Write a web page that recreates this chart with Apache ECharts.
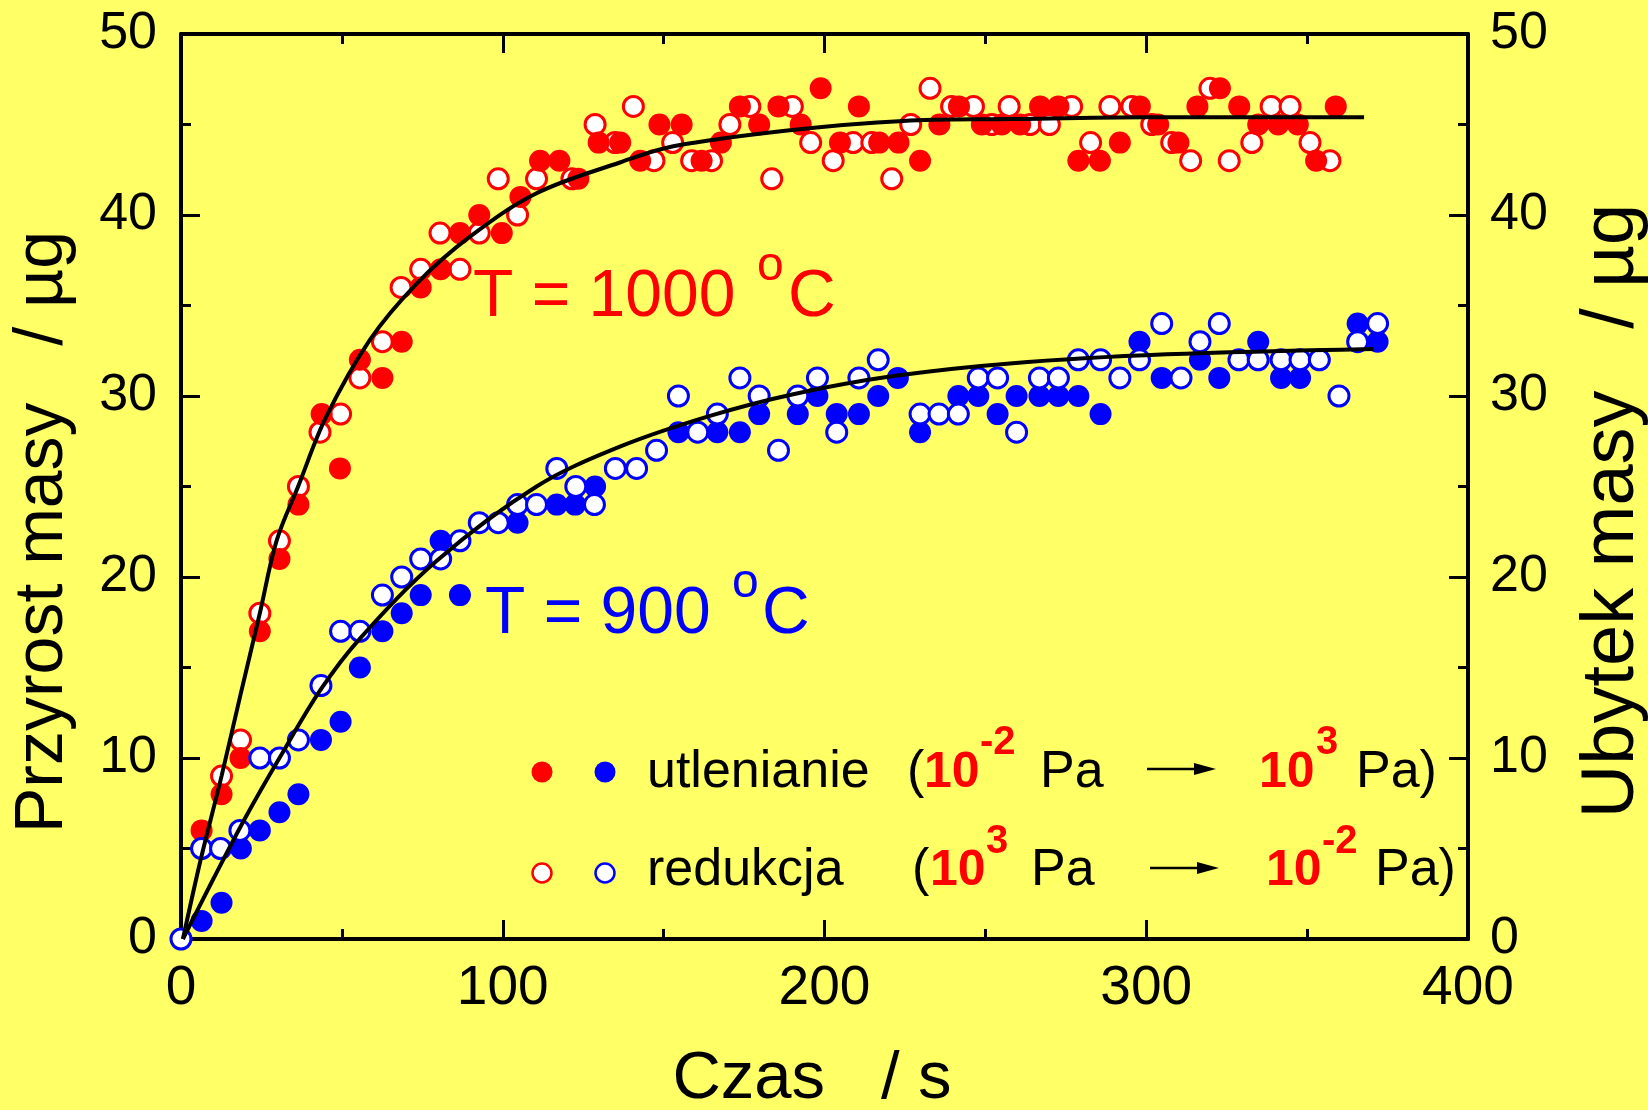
<!DOCTYPE html>
<html>
<head>
<meta charset="utf-8">
<script src="https://cdn.jsdelivr.net/npm/echarts@6/dist/echarts.min.js"></script>
<style>
  html, body { margin: 0; padding: 0; background: #FFFF66; }
  #chart { width: 1648px; height: 1110px; }
</style>
</head>
<body>
<div id="chart"></div>
<script>
// Mass change vs. time at two temperatures (oxidation = filled, reduction = open)

// T = 1000 °C, oxidation (filled red)
const red1000OxT = [6.4,12.6,18.5,24.5,30.6,36.5,43.7,49.4,55.6,62.6,68.6,74.5,80.7,86.7,92.7,99.7,105.5,111.6,117.6,123.5,129.8,136.5,142.7,148.7,155.6,161.8,167.8,173.7,179.7,185.7,192.6,198.8,204.8,210.7,217,223,229.7,235.7,241.8,248.9,255.1,260.8,267,272.7,278.9,285.6,291.8,298,303.7,310,315.9,322.9,328.9,334.8,341,347.1,352.8,358.9];
const red1000OxY = [6,8,10,17,21,24,29,26,32,31,33,36,37,39,40,39,41,43,43,42,44,44,43,45,45,43,44,46,45,46,45,47,44,46,44,44,43,45,46,45,45,45,46,46,43,43,44,46,45,44,46,47,46,45,45,45,43,46];

// T = 1000 °C, reduction (open red)
const red1000RedT = [12.6,18.5,24.5,30.6,36.5,43.2,49.6,55.6,62.6,68.4,74.5,80.5,86.7,92.7,98.6,104.6,110.5,121.5,128.7,134.9,140.6,147,152.8,158.7,164.9,170.6,176.8,183.6,190,195.7,202.7,208.9,214.7,220.9,226.8,232.8,239.5,246.3,252,257.4,263.9,269.9,276.8,282.7,288.7,295.5,301.7,307.9,313.8,319.8,325.8,332.8,338.8,344.7,350.9,357.1];
const red1000RedY = [9,11,18,22,25,28,29,31,33,36,37,39,37,39,42,40,42,42,45,44,46,43,44,43,43,45,46,42,46,44,43,44,44,42,45,47,46,46,45,46,45,45,46,44,46,46,45,44,43,47,43,44,46,46,44,43];

// T = 900 °C, oxidation (filled blue)
const blue900OxT = [6.4,12.6,18.6,24.5,30.6,36.5,43.5,49.6,55.6,62.6,68.6,74.5,80.7,86.7,104.6,116.8,122.5,128.7,154.6,166.7,173.7,179.7,191.7,197.8,203.8,210.7,216.7,222.8,229.7,241.6,247.8,253.8,259.7,266.8,272.7,278.9,285.8,297.9,304.8,316.7,322.7,334.8,341.9,347.8,365.7,371.9];
const blue900OxY = [1,2,5,6,7,8,11,12,15,17,18,19,22,19,23,24,24,25,28,28,28,29,29,30,29,29,30,31,28,30,30,29,30,30,30,30,29,33,31,32,31,33,31,31,34,33];

// T = 900 °C, reduction (open blue)
const blue900RedT = [0,6.4,12.3,18.3,24.5,30.6,36.5,43.5,49.6,55.6,62.6,68.6,74.5,80.7,86.7,92.7,98.6,104.6,110.5,116.8,122.7,128.5,135,141.6,147.8,154.6,160.6,166.7,173.7,179.7,185.7,191.7,197.8,203.8,210.7,216.7,229.7,235.6,241.6,247.8,253.8,259.7,266.8,272.7,278.9,285.8,291.8,297.9,304.8,310.8,316.7,322.7,328.8,334.8,341.9,347.8,353.8,359.9,365.7,371.9];
const blue900RedY = [0,5,5,6,10,10,11,14,17,17,19,20,21,21,22,23,23,24,24,26,25,24,26,26,27,30,28,29,31,30,27,30,31,28,31,32,29,29,29,31,31,28,31,31,32,32,31,32,34,31,33,34,32,32,32,32,32,30,33,34];

// Fitted curves
const fit1000T = [0.6,6,12.6,18.5,24.5,29.7,36.4,45,58.7,73.2,89.8,110.5,136.4,153,190,224.5,257.6,300,367.7];
const fit1000Y = [0,4.3,9,13.5,18,22,25,28.8,33.1,36.2,38.8,41.2,42.9,43.8,44.7,45.2,45.3,45.4,45.4];
const fit900T = [0.6,10,20,30.6,43.5,55.6,79.5,110.5,136.4,164.4,190.3,221.4,257.6,306.3,370.6];
const fit900Y = [0,3.3,6.7,10,13.8,16.6,20.9,25.0,27.2,28.9,30.1,31.1,31.8,32.3,32.6];

// Axis ticks
const xTicks = { min: 0, max: 400, step: 100 };
const yTicks = { min: 0, max: 50, step: 10 };

const pairs = (xs, ys) => xs.map((x, i) => [x, ys[i]]);

const FONT = '"Liberation Sans", Arial, Helvetica, sans-serif';
const RED = '#FF0000', BLUE = '#0000FF', BG = '#FFFF66';

function axisCommon(showLabel, fontSize, margin) {
  return {
    type: 'value',
    axisLine: { show: true, onZero: false, lineStyle: { color: '#000', width: 4 } },
    axisTick: { show: true, inside: true, length: 19, lineStyle: { color: '#000', width: 3 } },
    minorTick: { show: true, splitNumber: 2, length: 10, lineStyle: { color: '#000', width: 3 } },
    splitLine: { show: false },
    axisLabel: { show: showLabel, color: '#000', fontSize: fontSize, fontFamily: FONT, margin: margin }
  };
}

const xBottom = Object.assign(axisCommon(true, 55, 22), { position: 'bottom', min: xTicks.min, max: xTicks.max, interval: xTicks.step });
const xTop = Object.assign(axisCommon(false, 55, 22), { position: 'top', min: xTicks.min, max: xTicks.max, interval: xTicks.step });
const yLeft = Object.assign(axisCommon(true, 52, 24), { position: 'left', min: yTicks.min, max: yTicks.max, interval: yTicks.step });
const yRight = Object.assign(axisCommon(true, 52, 22), { position: 'right', min: yTicks.min, max: yTicks.max, interval: yTicks.step });

function filled(name, data, color) {
  return { name, type: 'scatter', data, symbol: 'circle', symbolSize: 22, clip: false,
    itemStyle: { color: color, opacity: 1 }, emphasis: { disabled: true } };
}
function hollow(name, data, color) {
  return { name, type: 'scatter', data, symbol: 'circle', symbolSize: 20, clip: false,
    itemStyle: { color: '#FFFFFF', borderColor: color, borderWidth: 3, opacity: 1 }, emphasis: { disabled: true } };
}
function fitLine(name, data) {
  return { name, type: 'line', data, smooth: 0.35, showSymbol: false, symbol: 'none', z: 5,
    lineStyle: { color: '#000', width: 4 }, emphasis: { disabled: true } };
}

// Text helpers for annotations and the custom key
function txt(x, y, text, font, fill, extra) {
  return Object.assign({ type: 'text', x: x, y: y, silent: true, z: 100,
    style: { text: text, font: font, fill: fill, textAlign: 'left', textVerticalAlign: 'middle' } }, extra || {});
}
function arrow(x1, x2, y) {
  return [
    { type: 'line', silent: true, z: 100, shape: { x1: x1, y1: y, x2: x2 - 18, y2: y }, style: { stroke: '#000', lineWidth: 2.5 } },
    { type: 'polygon', silent: true, z: 100, shape: { points: [[x2 - 22, y - 6], [x2, y], [x2 - 22, y + 6]] }, style: { fill: '#000' } }
  ];
}
const fN = '52px ' + FONT, fB = 'bold 50px ' + FONT, fS = 'bold 40px ' + FONT;
const fBig = '66px ' + FONT, fDeg = '48px ' + FONT;

const row1 = 773, row2 = 871, sup1 = 743, sup2 = 842;

const graphics = [
  // axis titles
  txt(43, 532, '', '', '#000', { rotation: Math.PI / 2, style: { text: 'Przyrost masy   / µg', font: '68px ' + FONT, fill: '#000', textAlign: 'center', textVerticalAlign: 'middle' } }),
  txt(1613, 511, '', '', '#000', { rotation: Math.PI / 2, style: { text: 'Ubytek masy   / µg', font: '74px ' + FONT, fill: '#000', textAlign: 'center', textVerticalAlign: 'middle' } }),
  txt(812, 1080, '', '', '#000', { style: { text: 'Czas   / s', font: '67px ' + FONT, fill: '#000', textAlign: 'center', textVerticalAlign: 'middle' } }),
  // temperature labels
  txt(473, 298, 'T = 1000', fBig, RED),
  txt(757, 267, 'o', fDeg, RED),
  txt(788, 298, 'C', fBig, RED),
  txt(485, 615, 'T = 900', fBig, BLUE),
  txt(732, 584, 'o', fDeg, BLUE),
  txt(762, 615, 'C', fBig, BLUE),
  // key markers
  { type: 'circle', silent: true, z: 100, shape: { cx: 542, cy: 772, r: 10.5 }, style: { fill: RED } },
  { type: 'circle', silent: true, z: 100, shape: { cx: 605, cy: 772, r: 10.5 }, style: { fill: BLUE } },
  { type: 'circle', silent: true, z: 100, shape: { cx: 542, cy: 873, r: 9.5 }, style: { fill: '#fff', stroke: RED, lineWidth: 2.5 } },
  { type: 'circle', silent: true, z: 100, shape: { cx: 605, cy: 873, r: 9.5 }, style: { fill: '#fff', stroke: BLUE, lineWidth: 2.5 } },
  // key row 1
  txt(647, row1, 'utlenianie', fN, '#000'),
  txt(907, row1, '(', fN, '#000'),
  txt(924, row1, '10', fB, RED),
  txt(980, sup1, '-2', fS, RED),
  txt(1040, row1, 'Pa', fN, '#000'),
  ...arrow(1147, 1216, 769),
  txt(1259, row1, '10', fB, RED),
  txt(1316, sup1, '3', fS, RED),
  txt(1356, row1, 'Pa)', fN, '#000'),
  // key row 2
  txt(647, row2, 'redukcja', fN, '#000'),
  txt(912, row2, '(', fN, '#000'),
  txt(930, row2, '10', fB, RED),
  txt(986, sup2, '3', fS, RED),
  txt(1031, row2, 'Pa', fN, '#000'),
  ...arrow(1150, 1219, 868),
  txt(1266, row2, '10', fB, RED),
  txt(1322, sup2, '-2', fS, RED),
  txt(1375, row2, 'Pa)', fN, '#000')
];

const chart = echarts.init(document.getElementById('chart'), null, { renderer: 'canvas' });
chart.setOption({
  backgroundColor: BG,
  animation: false,
  grid: { left: 181, right: 180, top: 34, bottom: 171, containLabel: false },
  xAxis: [xBottom, xTop],
  yAxis: [yLeft, yRight],
  series: [
    hollow('redukcja 1000', pairs(red1000RedT, red1000RedY), RED),
    filled('utlenianie 1000', pairs(red1000OxT, red1000OxY), RED),
    filled('utlenianie 900', pairs(blue900OxT, blue900OxY), BLUE),
    hollow('redukcja 900', pairs(blue900RedT, blue900RedY), BLUE),
    fitLine('fit 1000', pairs(fit1000T, fit1000Y)),
    fitLine('fit 900', pairs(fit900T, fit900Y))
  ],
  graphic: graphics
});
</script>
</body>
</html>
